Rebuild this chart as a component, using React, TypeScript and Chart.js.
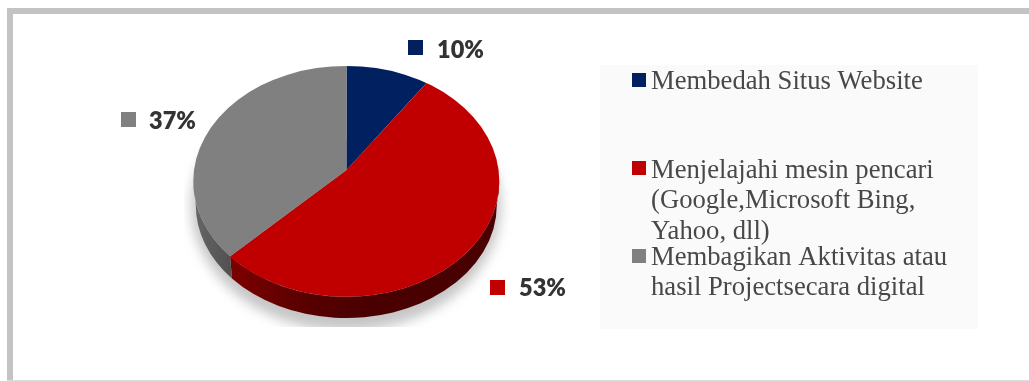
import React, { useEffect, useRef } from "react";
import { Chart, registerables } from "chart.js";

Chart.register(...registerables);

// Share of each activity, in percent
const categories = ["Membedah Situs Website", "Menjelajahi mesin pencari", "Membagikan Aktivitas atau"];
const values = [10, 53, 37];
const sliceColors = ["#002060", "#c00000", "#808080"];
const legendLines = [
  ["Membedah Situs Website"],
  ["Menjelajahi mesin pencari", "(Google,Microsoft Bing,", "Yahoo, dll)"],
  ["Membagikan Aktivitas atau", "hasil Projectsecara digital"],
];

const WIDTH = 1029;
const HEIGHT = 381;

// Tilted disc: upper face, lower rim and the off-centre apex of the slices
const face = { cx: 346.3, cy: 181.3, rx: 153, ry: 115.4 };
const rim = { cx: 346.3, cy: 205, rx: 150.5, ry: 113 };
const apex = { x: 346.5, y: 170 };
const tilt = 0.79;

// Callouts beside the pie: swatch corner and text start
const callouts = [
  { sx: 408, sy: 40, tx: 437, ty: 50 },
  { sx: 490, sy: 280, tx: 519, ty: 288 },
  { sx: 121, sy: 112, tx: 149, ty: 121 },
];

// Legend rows: swatch top and the baseline of each text line
const legendRows = [
  { sy: 73, base: [89] },
  { sy: 161, base: [178, 208, 239] },
  { sy: 249, base: [265, 295] },
];

// Parameter on the face ellipse where a slice boundary leaves the apex
function boundaryParam(angle: number) {
  const dx = Math.cos(angle);
  const dy = Math.sin(angle) * tilt;
  const ox = (apex.x - face.cx) / face.rx;
  const oy = (apex.y - face.cy) / face.ry;
  const ux = dx / face.rx;
  const uy = dy / face.ry;
  const a = ux * ux + uy * uy;
  const b = 2 * (ox * ux + oy * uy);
  const c = ox * ox + oy * oy - 1;
  const l = (-b + Math.sqrt(b * b - 4 * a * c)) / (2 * a);
  return Math.atan2(oy + l * uy, ox + l * ux);
}

function wallPath(ctx: CanvasRenderingContext2D, t0: number, t1: number) {
  ctx.beginPath();
  ctx.ellipse(face.cx, face.cy, face.rx, face.ry, 0, t0, t1);
  ctx.ellipse(rim.cx, rim.cy, rim.rx, rim.ry, 0, t1, t0, true);
  ctx.closePath();
}

const tiltedPie = {
  id: "tiltedPie",
  beforeDraw(chart: any) {
    const ctx: CanvasRenderingContext2D = chart.ctx;
    ctx.save();
    ctx.fillStyle = "#ffffff";
    ctx.fillRect(0, 0, WIDTH, HEIGHT);
    // Outer frame
    ctx.fillStyle = "#c3c3c3";
    ctx.fillRect(7, 8, WIDTH - 7, 6);
    ctx.fillRect(7, 8, 6, HEIGHT - 8);
    ctx.fillStyle = "#dddddd";
    ctx.fillRect(7, HEIGHT - 1, WIDTH - 7, 1);
    // Legend panel
    ctx.fillStyle = "#fafafa";
    ctx.fillRect(600, 65, 378, 264);
    ctx.restore();
  },
  beforeDatasetsDraw(chart: any) {
    const ctx: CanvasRenderingContext2D = chart.ctx;
    const arcs = chart.getDatasetMeta(0).data;
    const split = boundaryParam(arcs[1].endAngle);

    // Soft floor shadow, cut off below the disc
    ctx.save();
    ctx.beginPath();
    ctx.rect(184, 140, 326, 187);
    ctx.clip();
    ctx.filter = "blur(6px)";
    ctx.fillStyle = "#c6c6c6";
    ctx.beginPath();
    ctx.ellipse(346, 206, 155, 125, 0, 0, Math.PI * 2);
    ctx.fill();
    ctx.restore();

    // Side wall below the red and grey slices
    ctx.save();
    const red = ctx.createLinearGradient(232, 0, 499, 0);
    red.addColorStop(0, "#7c0000");
    red.addColorStop(0.3, "#560000");
    red.addColorStop(0.55, "#480000");
    red.addColorStop(1, "#4a0000");
    ctx.fillStyle = red;
    wallPath(ctx, 0, split);
    ctx.fill();
    const grey = ctx.createLinearGradient(194, 0, 232, 0);
    grey.addColorStop(0, "#666666");
    grey.addColorStop(1, "#505050");
    ctx.fillStyle = grey;
    wallPath(ctx, split, Math.PI);
    ctx.fill();
    ctx.restore();

    // Upper face: the pie's arcs are squashed, re-centred on the apex and trimmed to the ellipse
    ctx.save();
    ctx.beginPath();
    ctx.ellipse(face.cx, face.cy, face.rx, face.ry, 0, 0, Math.PI * 2);
    ctx.clip();
    ctx.translate(apex.x, apex.y);
    ctx.scale(1, tilt);
    ctx.translate(-arcs[0].x, -arcs[0].y);
  },
  afterDatasetsDraw(chart: any) {
    const ctx: CanvasRenderingContext2D = chart.ctx;
    ctx.restore();

    const data: number[] = chart.data.datasets[0].data;
    const colors: string[] = chart.data.datasets[0].backgroundColor;

    // Percentage callouts
    ctx.save();
    ctx.textBaseline = "middle";
    ctx.textAlign = "left";
    ctx.font = "800 23.5px Lato";
    data.forEach((v, i) => {
      const c = callouts[i];
      ctx.fillStyle = colors[i];
      ctx.fillRect(c.sx, c.sy, 15, 15);
      ctx.fillStyle = "#333333";
      ctx.fillText(`${v}%`, c.tx, c.ty);
    });
    ctx.restore();

    // Legend
    ctx.save();
    ctx.textBaseline = "alphabetic";
    ctx.textAlign = "left";
    ctx.font = "26.67px 'Liberation Serif'";
    legendRows.forEach((row, i) => {
      ctx.fillStyle = colors[i];
      ctx.fillRect(632, row.sy, 14, 14);
      ctx.fillStyle = "#484848";
      legendLines[i].forEach((line, j) => ctx.fillText(line, 651, row.base[j]));
    });
    ctx.restore();
  },
};

export default function App() {
  const ref = useRef<HTMLCanvasElement>(null);
  useEffect(() => {
    const chart = new Chart(ref.current!, {
      type: "pie",
      data: {
        labels: categories,
        datasets: [{ data: values, backgroundColor: sliceColors, borderWidth: 0, clip: false } as any],
      },
      options: {
        animation: false,
        responsive: false,
        events: [],
        radius: 185,
        layout: { padding: 0 },
        plugins: { legend: { display: false }, tooltip: { enabled: false } },
      } as any,
      plugins: [tiltedPie as any],
    });
    return () => chart.destroy();
  }, []);
  return (
    <canvas
      ref={ref}
      width={WIDTH}
      height={HEIGHT}
      style={{ position: "absolute", left: 0, top: 0, display: "block" }}
    />
  );
}
